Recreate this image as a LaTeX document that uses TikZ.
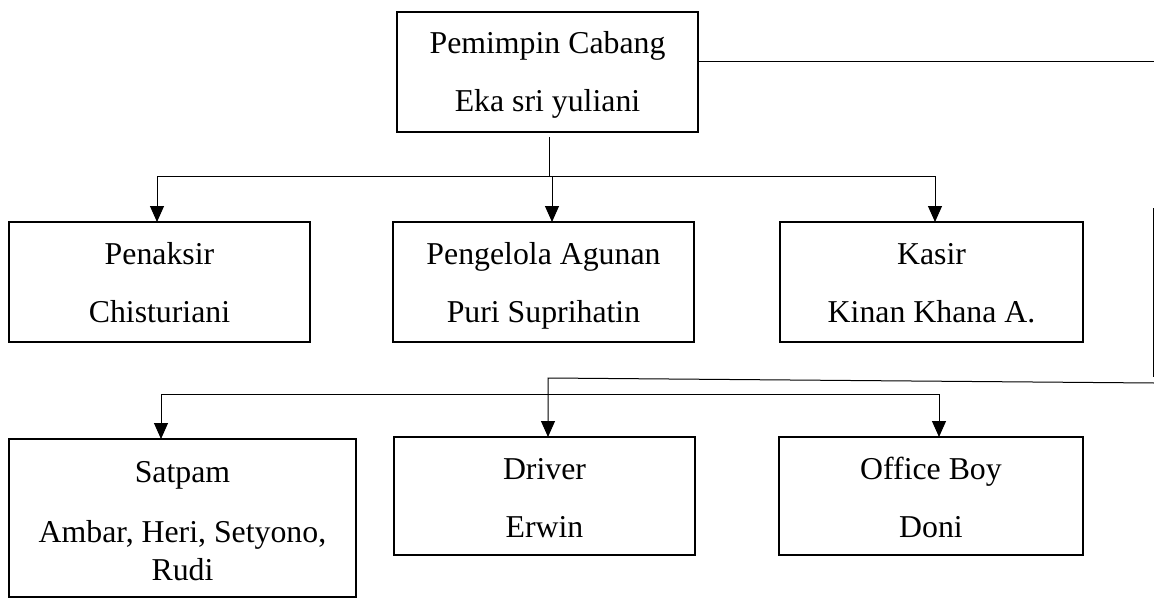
\documentclass[tikz,border=0pt]{standalone}
\usepackage{fontspec}
\setmainfont{Liberation Serif}
\usetikzlibrary{arrows.meta}
\newcommand{\topgap}[1]{\rule{0pt}{\dimexpr25.6pt+#1\relax}}
\begin{document}
\begin{tikzpicture}[x=1pt,y=-1pt,
  box/.style={draw,line width=1.2pt,inner sep=0pt,outer sep=0pt,align=center,
    font=\fontsize{31.8pt}{36.6pt}\selectfont},
  conn/.style={line width=1pt},
  arr/.style={line width=1pt,-{Triangle[width=14pt,length=16pt]}}]
\useasboundingbox (0,0) rectangle (1154,599);
\node[box,minimum width=301pt,minimum height=120pt] (top) at (547.5,72) {\strut\topgap{6pt}Pemimpin Cabang\\[21.4pt]\strut Eka sri yuliani};
\node[box,minimum width=301pt,minimum height=120pt] (pen) at (159.5,282) {\strut\topgap{8pt}Penaksir\\[21.4pt]\strut Chisturiani};
\node[box,minimum width=301pt,minimum height=120pt] (agu) at (543.5,282) {\strut\topgap{8pt}Pengelola Agunan\\[21.4pt]\strut Puri Suprihatin};
\node[box,minimum width=303pt,minimum height=120pt] (kas) at (931.5,282) {\strut\topgap{8pt}Kasir\\[21.4pt]\strut Kinan Khana A.};
\node[box,minimum width=347pt,minimum height=158pt] (sat) at (182.5,518) {\strut\topgap{12pt}Satpam\\[23.4pt]\strut Ambar, Heri, Setyono,\\[1.4pt]\strut Rudi};
\node[box,minimum width=301pt,minimum height=118pt] (drv) at (544.5,496) {\strut\topgap{10pt}Driver\\[21.4pt]\strut Erwin};
\node[box,minimum width=304pt,minimum height=118pt] (ofb) at (931,496) {\strut\topgap{10pt}Office Boy\\[21.4pt]\strut Doni};
% upper bus
\coordinate (stemtop) at (549,137);
\coordinate (busL) at (157,176);
\coordinate (busM) at (552,176);
\coordinate (busR) at (935,176);
\draw[conn] (stemtop) -- (stemtop |- busL);
\draw[conn] (busL) -- (busR);
\draw[arr] (busL) -- (busL |- pen.north);
\draw[arr] (busM) -- (busM |- agu.north);
\draw[arr] (busR) -- (busR |- kas.north);
% right side line
\coordinate (tr) at (1154,62);
\draw[conn] (top.east |- tr) -- (tr);
\coordinate (v1) at (1153,208);
\coordinate (v2) at (1153,377);
\draw[conn] (v1) -- (v2);
\coordinate (s1) at (1154,383);
\coordinate (dj) at (548,378);
\draw[arr] (s1) -- (dj) -- (dj |- drv.north);
% lower bus
\coordinate (b2L) at (161,394);
\coordinate (b2R) at (939,394);
\draw[conn] (b2L) -- (b2R);
\draw[arr] (b2L) -- (b2L |- sat.north);
\draw[arr] (b2R) -- (b2R |- ofb.north);
\end{tikzpicture}
\end{document}
